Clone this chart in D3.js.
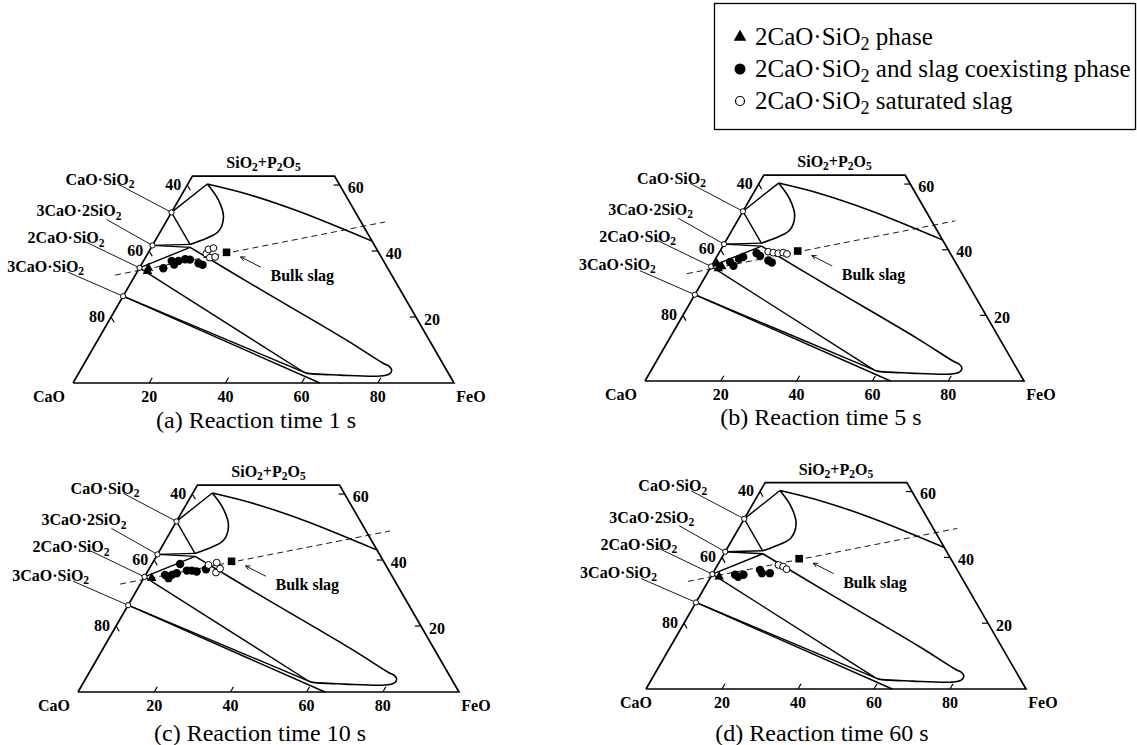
<!DOCTYPE html>
<html><head><meta charset="utf-8">
<script src="https://cdn.jsdelivr.net/npm/d3@7"></script>
<style>
body{margin:0;background:#fff;}
svg{display:block;}
text{font-family:"Liberation Serif","Times New Roman",serif;fill:#000;}
.lbl{font-weight:bold;font-size:16px;}
.cap{font-size:24px;}
.leg{font-size:25px;}
</style></head><body>
<svg id="chart" width="1137" height="745"></svg>
<script>
// Compositions are [SiO2+P2O5 mass%, FeO mass%]; CaO is the balance.
const panelTitles = ["(a) Reaction time 1 s", "(b) Reaction time 5 s", "(c) Reaction time 10 s", "(d) Reaction time 60 s"];

// calcium silicates on the CaO–SiO2 side
const compoundNames = ["CaO·SiO_2", "3CaO·2SiO_2", "2CaO·SiO_2", "3CaO·SiO_2"];
const compoundSiO2 = [51.7, 41.7, 34.9, 26.3];

// axis ticks
const cornerLabels = ["CaO", "FeO", "SiO_2+P_2O_5"];
const feoTicks = [20, 40, 60, 80];
const caoTicks = [40, 60, 80];
const sio2Ticks = [20, 40, 60];
const sio2Max = 62.7;

// phase boundaries of the CaO–SiO2–FeO section
const upperLiquidus = [[60.3, 5.1], [57.0, 18.0], [51.9, 33.6], [43.0, 57.0]];
const csLoop = [[60.3, 5.1], [55.5, 10.4], [50.4, 14.3], [45.9, 15.2], [43.1, 11.8], [42.0, 9.7]];
const lowerLiquidus = [[41.1, 10.2], [30.2, 31.4], [13.0, 65.3], [6.0, 78.4], [5.1, 80.4], [3.9, 81.7], [2.7, 81.6], [2.1, 79.5], [2.4, 68.9], [3.0, 59.8], [3.4, 58.7]];
const tieLines = [
  [[51.7, 0], [60.3, 5.1]],
  [[51.7, 0], [42.0, 9.7]],
  [[41.7, 0], [42.0, 9.7]],
  [[41.7, 0], [41.1, 10.2]],
  [[34.9, 0], [41.1, 10.2]],
  [[34.9, 0], [3.4, 58.7]],
  [[26.3, 0], [3.4, 58.7]],
  [[26.3, 0], [0, 64.8]]
];
// C2S – bulk slag join (dashed)
const bulkJoin = [[32.7, -5.3], [48.8, 57.5]];
const bulkSlag = [39.6, 20.5];

// measured phases at 1 s, 5 s, 10 s, 60 s
const c2sPhase = [
  [[34.8, 2.4], [33.9, 2.6]],
  [[35.7, 1.1], [34.9, 2.8], [34.3, 2.2]],
  [[34.5, 2.1]],
  [[34.1, 2.2]]
];
const coexisting = [
  [[34.8, 6.3], [37.0, 7.4], [35.9, 8.6], [37.0, 9.2], [37.5, 10.7], [37.4, 12.0], [36.3, 14.8], [35.8, 16.1]],
  [[36.3, 4.3], [35.1, 5.8], [37.2, 6.2], [37.8, 7.0], [38.9, 10.0], [38.1, 11.3], [36.7, 14.2], [36.1, 15.4]],
  [[35.5, 5.1], [34.5, 6.5], [35.5, 6.9], [36.0, 7.9], [38.8, 7.4], [36.8, 10.2], [36.8, 11.5], [36.5, 12.9], [37.2, 15.0]],
  [[34.7, 6.1], [34.1, 7.2], [34.7, 8.3], [36.2, 11.9], [35.2, 12.9], [35.2, 15.0]]
];
const saturated = [
  [[39.2, 15.4], [40.5, 15.3], [40.9, 16.4], [38.0, 16.9], [38.2, 18.2]],
  [[39.4, 12.8], [39.1, 14.3], [38.9, 15.7], [39.1, 16.9], [38.7, 18.1]],
  [[38.5, 15.0], [39.2, 16.8], [36.2, 18.1], [37.4, 18.6]],
  [[37.7, 16.0], [37.2, 17.5], [36.4, 18.8]]
];

const legendLabels = ["2CaO·SiO_2 phase", "2CaO·SiO_2 and slag coexisting phase", "2CaO·SiO_2 saturated slag"];

// frame of each panel: CaO corner, base length, caption centre offset, CaO label offset
const panelFrames = [
  {x0: 73, y0: 383, w: 381, cx: 183, cy: 45, cao: -24},
  {x0: 645, y0: 381, w: 379, cx: 176, cy: 44, cao: -24},
  {x0: 78, y0: 692, w: 381, cx: 182, cy: 49, cao: -24},
  {x0: 646, y0: 689, w: 380, cx: 176, cy: 52, cao: -10}
];
// label placement (text end, leader start) relative to each compound point
const compoundLabelOffsets = [
  {tx: -37, ty: -27.5, lx: -53, ly: -28},
  {tx: -31, ty: -29, lx: -46, ly: -26},
  {tx: -35, ty: -24.5, lx: -54, ly: -26},
  {tx: -39, ty: -24.5, lx: -55, ly: -24}
];

const svg = d3.select("#chart");

// write a formula; "_x" makes x a subscript
function formula(sel, str) {
  const parts = str.split(/(_\d)/).filter(p => p.length);
  let sub = false;
  parts.forEach(p => {
    if (p[0] === "_") {
      sel.append("tspan").attr("dy", "0.28em").attr("font-size", "0.72em").text(p[1]);
      sub = true;
    } else {
      const t = sel.append("tspan").text(p);
      if (sub) t.attr("dy", "-0.2em");
      sub = false;
    }
  });
  return sel;
}

function drawPanel(frame, i) {
  const g = svg.append("g");
  const h = frame.w * Math.sqrt(3) / 2;
  const xs = d3.scaleLinear().domain([0, 100]).range([frame.x0, frame.x0 + frame.w]);
  const ys = d3.scaleLinear().domain([0, 100]).range([frame.y0, frame.y0 - h]);
  const px = d => xs(d[1] + d[0] / 2);
  const py = d => ys(d[0]);
  const line = d3.line().x(px).y(py);
  const curve = d3.line().x(px).y(py).curve(d3.curveCatmullRom.alpha(0.5));

  // truncated triangle frame
  const frameLine = [[0, 0], [0, 100], [sio2Max, 100 - sio2Max], [sio2Max, 0], [0, 0]];
  g.append("path").attr("d", line(frameLine)).attr("fill", "none")
    .attr("stroke", "#000").attr("stroke-width", 1.7).attr("stroke-linejoin", "miter");

  // ticks
  const tk = 1.6;
  feoTicks.forEach(v => {
    g.append("path").attr("d", line([[0, v], [tk, v]])).attr("stroke", "#000").attr("stroke-width", 1.2);
    g.append("text").attr("class", "lbl").attr("x", px([0, v])).attr("y", py([0, v]) + 19)
      .attr("text-anchor", "middle").text(v);
  });
  caoTicks.forEach(v => {
    const s = 100 - v;
    g.append("path").attr("d", line([[s, 0], [s - tk, tk]])).attr("stroke", "#000").attr("stroke-width", 1.2);
    g.append("text").attr("class", "lbl").attr("x", px([s, 0]) - 14).attr("y", py([s, 0]) + 4.5)
      .attr("text-anchor", "middle").text(v);
  });
  sio2Ticks.forEach(v => {
    g.append("path").attr("d", line([[v, 100 - v], [v, 100 - v - tk]])).attr("stroke", "#000").attr("stroke-width", 1.2);
    g.append("text").attr("class", "lbl").attr("x", px([v, 100 - v]) + 16).attr("y", py([v, 100 - v]) + 7.5)
      .attr("text-anchor", "middle").text(v);
  });
  g.append("text").attr("class", "lbl").attr("x", px([0, 0]) + frame.cao).attr("y", py([0, 0]) + 19)
    .attr("text-anchor", "middle").text(cornerLabels[0]);
  g.append("text").attr("class", "lbl").attr("x", px([0, 100]) + 17).attr("y", py([0, 100]) + 19)
    .attr("text-anchor", "middle").text(cornerLabels[1]);
  formula(g.append("text").attr("class", "lbl").attr("font-size", 15)
    .attr("x", (px([sio2Max, 0]) + px([sio2Max, 100 - sio2Max])) / 2).attr("y", py([sio2Max, 0]) - 8)
    .attr("text-anchor", "middle"), cornerLabels[2]);

  // phase boundaries
  const bStroke = 1.6;
  g.append("path").attr("d", curve(upperLiquidus)).attr("fill", "none").attr("stroke", "#000").attr("stroke-width", bStroke);
  g.append("path").attr("d", curve(csLoop)).attr("fill", "none").attr("stroke", "#000").attr("stroke-width", bStroke);
  g.append("path").attr("d", curve(lowerLiquidus)).attr("fill", "none").attr("stroke", "#000").attr("stroke-width", bStroke);
  tieLines.forEach(t => {
    g.append("path").attr("d", line(t)).attr("fill", "none").attr("stroke", "#000").attr("stroke-width", 1.4);
  });
  g.append("path").attr("d", line(bulkJoin)).attr("fill", "none").attr("stroke", "#000")
    .attr("stroke-width", 0.9).attr("stroke-dasharray", "6,4");

  // compound labels and leader lines
  compoundSiO2.forEach((s, k) => {
    const c = [s, 0];
    const o = compoundLabelOffsets[k];
    g.append("path").attr("d", `M${px(c) + o.lx},${py(c) + o.ly}L${px(c)},${py(c)}`)
      .attr("stroke", "#000").attr("stroke-width", 0.9);
    formula(g.append("text").attr("class", "lbl").attr("x", px(c) + o.tx).attr("y", py(c) + o.ty)
      .attr("text-anchor", "end"), compoundNames[k]);
  });
  compoundSiO2.forEach(s => {
    g.append("circle").attr("cx", px([s, 0])).attr("cy", py([s, 0])).attr("r", 2.6)
      .attr("fill", "#fff").attr("stroke", "#000").attr("stroke-width", 1);
  });

  // measured compositions
  coexisting[i].forEach(d => {
    g.append("circle").attr("cx", px(d)).attr("cy", py(d)).attr("r", 4.2).attr("fill", "#000");
  });
  saturated[i].forEach(d => {
    g.append("circle").attr("cx", px(d)).attr("cy", py(d)).attr("r", 3.4)
      .attr("fill", "#fff").attr("stroke", "#000").attr("stroke-width", 1);
  });
  c2sPhase[i].forEach(d => {
    g.append("path").attr("d", d3.symbol(d3.symbolTriangle, 40)())
      .attr("transform", `translate(${px(d)},${py(d)})`).attr("fill", "#000");
  });
  g.append("rect").attr("x", px(bulkSlag) - 3.8).attr("y", py(bulkSlag) - 3.8)
    .attr("width", 7.6).attr("height", 7.6).attr("fill", "#000");

  // bulk slag pointer
  const bx = px(bulkSlag), by = py(bulkSlag);
  const tip = [bx + 14, by + 4.5], tail = [bx + 34.5, by + 15];
  const ang = Math.atan2(tail[1] - tip[1], tail[0] - tip[0]);
  const hl = 5, ha = 0.45;
  g.append("path")
    .attr("d", `M${tail[0]},${tail[1]}L${tip[0]},${tip[1]}` +
      `M${tip[0] + hl * Math.cos(ang - ha)},${tip[1] + hl * Math.sin(ang - ha)}L${tip[0]},${tip[1]}` +
      `L${tip[0] + hl * Math.cos(ang + ha)},${tip[1] + hl * Math.sin(ang + ha)}`)
    .attr("fill", "none").attr("stroke", "#000").attr("stroke-width", 0.9);
  g.append("text").attr("class", "lbl").attr("x", bx + 44).attr("y", by + 29).text("Bulk slag");

  // caption
  g.append("text").attr("class", "cap").attr("x", frame.x0 + frame.cx).attr("y", frame.y0 + frame.cy)
    .attr("text-anchor", "middle").text(panelTitles[i]);
}

panelFrames.forEach(drawPanel);

// legend
const lg = svg.append("g");
lg.append("rect").attr("x", 714.5).attr("y", 3.5).attr("width", 421).attr("height", 126)
  .attr("fill", "#fff").attr("stroke", "#000").attr("stroke-width", 1.3);
const rowY = [37, 69, 101];
lg.append("path").attr("d", d3.symbol(d3.symbolTriangle, 70)()).attr("transform", `translate(740,${rowY[0]})`).attr("fill", "#000");
lg.append("circle").attr("cx", 740).attr("cy", rowY[1]).attr("r", 5.5).attr("fill", "#000");
lg.append("circle").attr("cx", 740).attr("cy", rowY[2]).attr("r", 4.5).attr("fill", "#fff").attr("stroke", "#000").attr("stroke-width", 1.2);
legendLabels.forEach((t, k) => {
  formula(lg.append("text").attr("class", "leg").attr("x", 755).attr("y", rowY[k] + 8), t);
});
</script>
</body></html>
